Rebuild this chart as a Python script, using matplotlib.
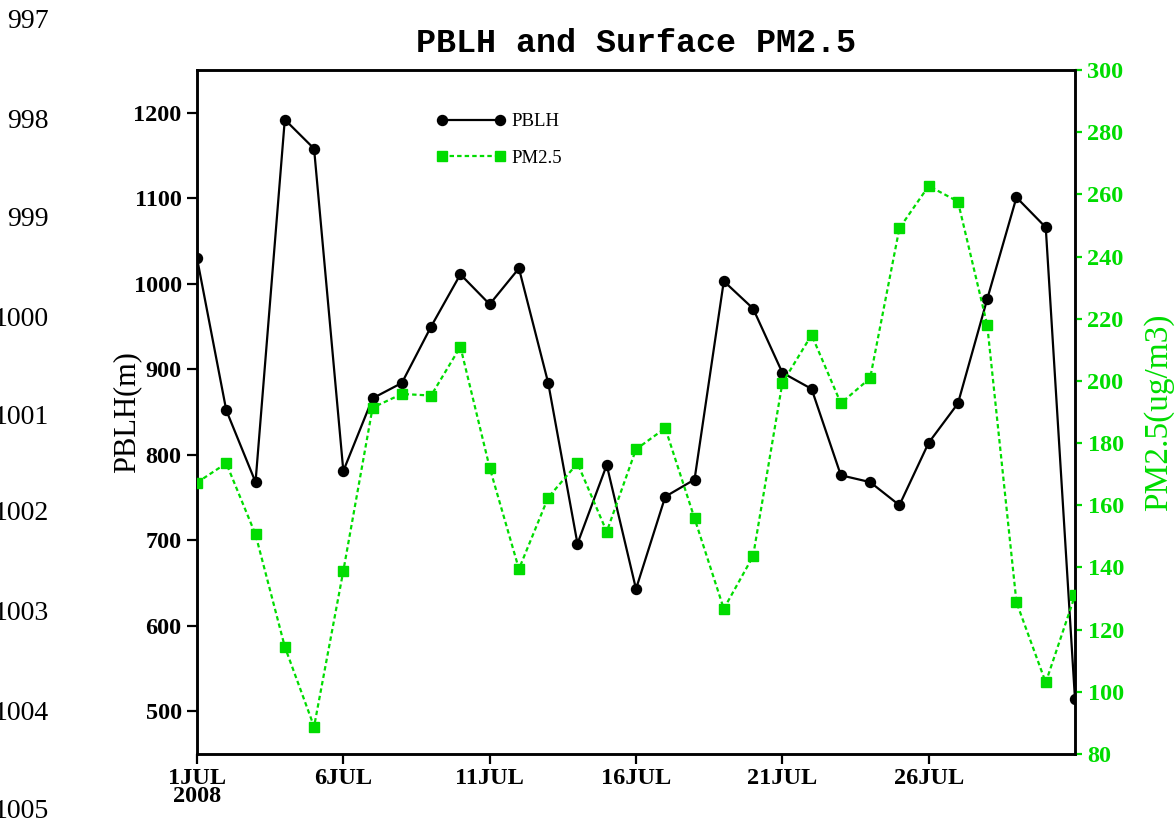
import matplotlib
matplotlib.use("Agg")
import matplotlib.pyplot as plt
from matplotlib.legend_handler import HandlerLine2D
import numpy as np

# ---- data ----
days = list(range(1, 32))
pblh = [1030, 852, 768, 1192, 1158, 781, 866, 884, 950, 1011,
        976, 1018, 884, 696, 788, 643, 751, 771, 1003, 971,
        896, 877, 776, 768, 741, 814, 860, 982, 1101, 1066, 514]
pm25 = [167.3, 173.5, 150.6, 114.5, 88.8, 138.9, 191.4, 195.8, 195.3, 211.0,
        172.1, 139.5, 162.5, 173.5, 151.5, 178.0, 184.8, 155.8, 126.7, 143.6,
        199.3, 214.8, 192.8, 200.9, 249.1, 262.7, 257.7, 218.0, 128.8, 103.0, 131.0]
xtick_days = [1, 6, 11, 16, 21, 26]
xtick_labels = ["1JUL\n2008", "6JUL", "11JUL", "16JUL", "21JUL", "26JUL"]
left_ticks = [500, 600, 700, 800, 900, 1000, 1100, 1200]
right_ticks = [80, 100, 120, 140, 160, 180, 200, 220, 240, 260, 280, 300]
page_line_numbers = ["997", "998", "999", "1000", "1001", "1002", "1003", "1004", "1005"]
page_line_y = [22, 121, 220, 320, 418, 514, 614, 714, 812]

GREEN = "#00dc00"
SERIF = "Liberation Serif"
MONO = "Liberation Mono"

fig = plt.figure(figsize=(11.76, 8.32), dpi=100)
ax = fig.add_axes([197/1176, 1-754/832, (1075-197)/1176, (754-70)/832])
ax2 = ax.twinx()

# PBLH
l1, = ax.plot(days, pblh, color="black", lw=1.6, marker="o", ms=7.2,
              label="PBLH", zorder=3)
# PM2.5
l2, = ax2.plot(days, pm25, color=GREEN, lw=1.6, ls=(0, (2.0, 1.4)),
               marker="s", ms=7.2, label="PM2.5", zorder=3)

ax.set_xlim(1, 31)
ax.set_ylim(450, 1250)
ax2.set_ylim(80, 300)

TICKFS = 17.5
ax.set_xticks(xtick_days)
ax.set_xticklabels(xtick_labels, fontfamily=SERIF, fontweight="bold", fontsize=TICKFS)
for lab in ax.get_xticklabels():
    lab.set_linespacing(0.85)
ax.set_yticks(left_ticks)
ax.set_yticklabels([str(v) for v in left_ticks], fontfamily=SERIF,
                   fontweight="bold", fontsize=TICKFS)
ax2.set_yticks(right_ticks)
ax2.set_yticklabels([str(v) for v in right_ticks], fontfamily=SERIF,
                    fontweight="bold", fontsize=TICKFS, color=GREEN)

ax.tick_params(axis="x", direction="out", length=7, width=1.6, pad=3)
ax.tick_params(axis="y", direction="out", length=7, width=1.6, pad=4)
ax2.tick_params(axis="y", direction="out", length=5, width=1.6, pad=4,
                colors=GREEN)

for a in (ax, ax2):
    for s in a.spines.values():
        s.set_linewidth(1.8)
        s.set_color("black")

ax.set_ylabel("PBLH(m)", fontfamily=SERIF, fontsize=22)
ax.yaxis.set_label_coords(-0.063, 0.5)
ax2.set_ylabel("PM2.5(ug/m3)", fontfamily=SERIF, fontsize=24, color=GREEN)
ax2.yaxis.set_label_coords(1.078, 0.5)

ax.set_title("PBLH and Surface PM2.5", fontfamily=MONO, fontweight="bold",
             fontsize=24, pad=13)

leg = ax2.legend(handles=[l1, l2], loc="upper left",
                 bbox_to_anchor=((441.7-197)/878, 1-(113-70)/684),
                 frameon=False, borderpad=0, borderaxespad=0,
                 handlelength=3.1, handletextpad=0.6, labelspacing=1.05,
                 prop={"family": SERIF, "size": 13.5},
                 handler_map={l1: HandlerLine2D(numpoints=2, marker_pad=0),
                              l2: HandlerLine2D(numpoints=2, marker_pad=0)})

for txt, yy in zip(page_line_numbers, page_line_y):
    fig.text(49/1176, 1-yy/832, txt, ha="right", va="center",
             fontfamily=SERIF, fontsize=20, color="black")

fig.savefig("out.png", dpi=100)
